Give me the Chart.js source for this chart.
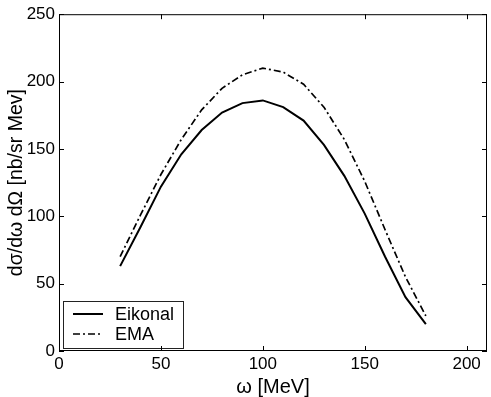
<!DOCTYPE html>
<html>
<head>
<meta charset="utf-8">
<script src="https://cdn.jsdelivr.net/npm/chart.js@4"></script>
<style>
  html, body { margin: 0; padding: 0; background: #fff; }
  #wrap { width: 491px; height: 397px; }
</style>
</head>
<body>
<div id="wrap"><canvas id="xsecChart" width="491" height="397"></canvas></div>
<script>
// energia transferida (MeV)
const omega = [30, 40, 50, 60, 70, 80, 90, 100, 110, 120, 130, 140, 150, 160, 170, 180];
// secao de choque - aproximacao eikonal
const eikonal = [63, 92, 122, 146, 164, 177, 184, 186, 181, 171, 153, 130, 102, 70, 40, 20];
// secao de choque - EMA
const ema = [70, 101, 131, 157, 179, 195, 205, 210, 207, 198, 181, 157, 126, 90, 55, 26];
const xTicks = [0, 50, 100, 150, 200];
const yTicks = [0, 50, 100, 150, 200, 250];

const fonte = 'Liberation Sans, Arial, Helvetica, sans-serif';

// moldura + ticks para dentro (estilo matlab)
const molduraPlugin = {
  id: 'moldura',
  afterDraw(chart) {
    const { ctx, chartArea: a, scales } = chart;
    ctx.save();
    ctx.strokeStyle = '#000';
    ctx.lineWidth = 1;
    ctx.strokeRect(a.left + 0.5, a.top + 0.5, a.right - a.left - 1, a.bottom - a.top - 1);
    const t = 5;
    ctx.beginPath();
    scales.x.ticks.forEach((tk) => {
      const px = Math.round(scales.x.getPixelForValue(tk.value)) + 0.5;
      ctx.moveTo(px, a.bottom); ctx.lineTo(px, a.bottom - t);
      ctx.moveTo(px, a.top); ctx.lineTo(px, a.top + t);
    });
    scales.y.ticks.forEach((tk) => {
      const py = Math.round(scales.y.getPixelForValue(tk.value)) + 0.5;
      ctx.moveTo(a.left, py); ctx.lineTo(a.left + t, py);
      ctx.moveTo(a.right, py); ctx.lineTo(a.right - t, py);
    });
    ctx.stroke();
    ctx.restore();
  },
};

// legenda no canto inferior esquerdo dentro da area do grafico
const legendaPlugin = {
  id: 'legendaInterna',
  afterDatasetsDraw(chart) {
    const { ctx, chartArea: a } = chart;
    const x0 = a.left + 4, w = 120, h = 47;
    const y0 = a.bottom - 3 - h;
    ctx.save();
    ctx.fillStyle = '#fff';
    ctx.fillRect(x0, y0, w, h);
    ctx.strokeStyle = '#222';
    ctx.lineWidth = 1;
    ctx.strokeRect(x0 + 0.5, y0 + 0.5, w, h);
    ctx.font = '18px ' + fonte;
    ctx.textBaseline = 'middle';
    chart.data.datasets.forEach((ds, i) => {
      const y = y0 + 13 + i * 20;
      ctx.strokeStyle = ds.borderColor;
      ctx.lineWidth = ds.borderWidth;
      ctx.setLineDash(ds.borderDash || []);
      ctx.beginPath();
      ctx.moveTo(x0 + 10, y); ctx.lineTo(x0 + 40, y);
      ctx.stroke();
      ctx.setLineDash([]);
      ctx.fillStyle = '#000';
      ctx.fillText(ds.label, x0 + 52, y + 1);
    });
    ctx.restore();
  },
};

const ctx = document.getElementById('xsecChart').getContext('2d');

const chart = new Chart(ctx, {
  type: 'line',
  data: {
    datasets: [
      {
        label: 'Eikonal',
        data: omega.map((w, i) => ({ x: w, y: eikonal[i] })),
        borderColor: '#000', borderWidth: 2, pointRadius: 0, fill: false, tension: 0,
      },
      {
        label: 'EMA',
        data: omega.map((w, i) => ({ x: w, y: ema[i] })),
        borderColor: '#000', borderWidth: 1.7, borderDash: [7, 3, 2, 3], pointRadius: 0, fill: false, tension: 0,
      },
    ],
  },
  options: {
    responsive: false,
    animation: false,
    layout: { padding: { top: 13, right: 4, left: 0, bottom: 0 } },
    plugins: { legend: { display: false }, tooltip: { enabled: false } },
    scales: {
      x: {
        type: 'linear', min: 0, max: 210,
        afterBuildTicks: (s) => { s.ticks = xTicks.map((v) => ({ value: v })); },
        afterFit: (s) => { s.height = 46; },
        border: { display: false },
        grid: { display: false, drawTicks: false },
        ticks: { color: '#000', padding: 3, font: { family: fonte, size: 17 } },
        title: { display: true, text: 'ω [MeV]', color: '#000', padding: { top: 0, bottom: 0 }, font: { family: fonte, size: 20, lineHeight: 1.0 } },
      },
      y: {
        type: 'linear', min: 0, max: 250,
        afterBuildTicks: (s) => { s.ticks = yTicks.map((v) => ({ value: v })); },
        afterFit: (s) => { s.width = 59; },
        border: { display: false },
        grid: { display: false, drawTicks: false },
        ticks: { color: '#000', padding: 4, font: { family: fonte, size: 17 } },
        title: { display: true, text: 'dσ/dω dΩ [nb/sr Mev]', color: '#000', padding: { top: 5, bottom: 0 }, font: { family: fonte, size: 19.5, lineHeight: 1.2 } },
      },
    },
  },
  plugins: [legendaPlugin, molduraPlugin],
});
</script>
</body>
</html>
